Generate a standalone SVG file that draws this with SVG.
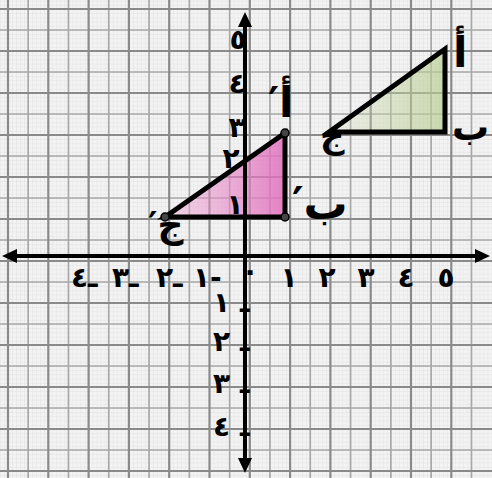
<svg xmlns="http://www.w3.org/2000/svg" width="492" height="478" viewBox="0 0 492 478">
<defs>
<pattern id="minor" patternUnits="userSpaceOnUse" x="8" y="9" width="4.03" height="4.2">
<rect width="4.03" height="4.2" fill="#f3f3f3"/>
<path d="M0 0V4.2M0 0H4.03" stroke="#dedede" stroke-width="0.8" fill="none"/>
</pattern>
<linearGradient id="pink" x1="165" y1="0" x2="287" y2="0" gradientUnits="userSpaceOnUse">
<stop offset="0" stop-color="#ee9fd2" stop-opacity="0.35"/>
<stop offset="1" stop-color="#e06bbb" stop-opacity="0.85"/>
</linearGradient>
<linearGradient id="green" x1="329" y1="0" x2="445" y2="0" gradientUnits="userSpaceOnUse">
<stop offset="0" stop-color="#c9d8ad" stop-opacity="0.15"/>
<stop offset="1" stop-color="#b8cc90" stop-opacity="0.7"/>
</linearGradient>
<style>
.maj{stroke:#8a8a8a;stroke-width:2.2;fill:none}
.med{stroke:#a8a8a8;stroke-width:1.7;fill:none}
.ax{stroke:#000;stroke-width:4;fill:none}
.tri{stroke:#000;stroke-width:5;fill:none;stroke-linejoin:miter}
.num{font-family:"DejaVu Sans",sans-serif;font-weight:bold;font-size:28px;fill:#000}
.lbl{font-family:"DejaVu Sans",sans-serif;font-weight:bold;fill:#000;unicode-bidi:bidi-override;direction:ltr}
.neg{font-family:"DejaVu Sans",sans-serif;font-weight:bold;font-size:28px;fill:#000;unicode-bidi:bidi-override;direction:ltr}
</style>
</defs>
<g id="grid">
<rect width="492" height="478" fill="url(#minor)"/>
<path class="med" d="M28.15 0V478M68.45 0V478M108.75 0V478M149.05 0V478M189.35 0V478M229.65 0V478M269.95 0V478M310.25 0V478M350.55 0V478M390.85 0V478M431.15 0V478M471.45 0V478M0 30H492M0 72H492M0 114H492M0 156H492M0 198H492M0 240H492M0 282H492M0 324H492M0 366H492M0 408H492M0 450H492"/>
<path class="maj" d="M8 0V478M48.3 0V478M88.6 0V478M128.9 0V478M169.2 0V478M209.5 0V478M249.8 0V478M290.1 0V478M330.4 0V478M370.7 0V478M411 0V478M451.3 0V478M0 9H492M0 51H492M0 93H492M0 135H492M0 177H492M0 219H492M0 261H492M0 303H492M0 345H492M0 387H492M0 429H492M0 471H492"/>
</g>
<g id="fills">
<polygon points="165,217 285,133 285,217" fill="url(#pink)"/>
<polygon points="329,132 445,49 445,132" fill="url(#green)"/>
</g>
<g id="axes">
<path class="ax" d="M12 256H480M245 20V466"/>
<polygon points="2,256 17,249 17,263"/>
<polygon points="490,256 475,249 475,263"/>
<polygon points="245,12 238,27 252,27"/>
<polygon points="245,473 238,458 252,458"/>
</g>
<g id="triangle-ABC">
<polygon class="tri" points="329,132 445,49 445,132"/>
<text class="lbl" x="453" y="67" font-size="42">أ</text>
<text class="lbl" x="452" y="140" font-size="37">ب</text>
<text class="lbl" x="320" y="148" font-size="34">ج</text>
</g>
<g id="triangle-A1B1C1">
<polygon class="tri" points="165,217 285,133 285,217"/>
<circle cx="165" cy="217" r="4" fill="#444" stroke="#000" stroke-width="1.5"/>
<circle cx="285" cy="133" r="4" fill="#444" stroke="#000" stroke-width="1.5"/>
<circle cx="285" cy="217" r="4" fill="#444" stroke="#000" stroke-width="1.5"/>
<text class="lbl" x="268" y="117" font-size="42">′أ</text>
<text class="lbl" x="292" y="219" font-size="44">′ب</text>
<text class="lbl" x="148" y="237" font-size="36">′ج</text>
</g>
<g id="x-labels">
<text class="num" x="289" y="287" text-anchor="middle">١</text>
<text class="num" x="327" y="287" text-anchor="middle">٢</text>
<text class="num" x="366" y="287" text-anchor="middle">٣</text>
<text class="num" x="406" y="287" text-anchor="middle">٤</text>
<text class="num" x="446" y="287" text-anchor="middle">٥</text>
<text class="num" x="250" y="280" text-anchor="middle" font-size="20">٠</text>
<text class="neg" x="71" y="287">٤ـ</text>
<text class="neg" x="112" y="287">٣ـ</text>
<text class="neg" x="156" y="287">٢ـ</text>
<text class="neg" x="193" y="287">١-</text>
</g>
<g id="y-labels">
<text class="num" x="238" y="49" text-anchor="middle">٥</text>
<text class="num" x="237" y="93" text-anchor="middle">٤</text>
<text class="num" x="237" y="137" text-anchor="middle">٣</text>
<text class="num" x="231" y="168" text-anchor="middle">٢</text>
<text class="num" x="235" y="214" text-anchor="middle">١</text>
<text class="neg" x="249.5" y="312" text-anchor="end">١ ـ</text>
<text class="neg" x="249.5" y="351" text-anchor="end">٢ ـ</text>
<text class="neg" x="249.5" y="393" text-anchor="end">٣ ـ</text>
<text class="neg" x="249.5" y="436" text-anchor="end">٤ ـ</text>
</g>
</svg>
